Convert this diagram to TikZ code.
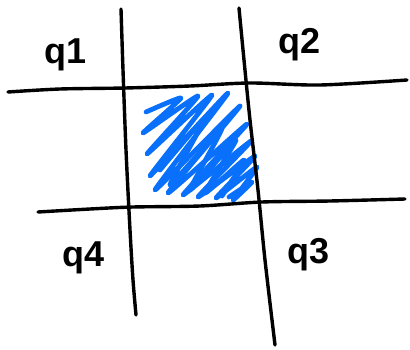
\documentclass[tikz,border=0pt]{standalone}
\usepackage{fontspec}
\setmainfont{Liberation Sans}
\definecolor{scribble}{RGB}{8,112,250}
\tikzset{
  gridline/.style={line width=3.4pt, line cap=round, line join=round, black},
  scribblestroke/.style={line width=4.8pt, line cap=round, line join=round, scribble},
  lbl/.style={font=\fontsize{36}{36}\selectfont\bfseries, inner sep=0pt}
}
\begin{document}
\begin{tikzpicture}[x=1pt,y=-1pt]
\useasboundingbox (0,0) rectangle (410,350);
% blue scribble (drawn first)
\draw[scribblestroke] plot[smooth, tension=0.3] coordinates {
 (146,112) (181,98) (143,133) (198,96) (147,154) (212,95) (150,176)
 (228,93) (155,190) (240,106) (168,193) (247,124) (183,195) (251,141)
 (198,197) (255,156) (216,198) (257,167) (233,200) (252,182) (229,197)};
\draw[scribblestroke] plot[smooth, tension=0.3] coordinates {
 (160,170) (205,118) (170,185) (222,128) (190,190) (236,140) (205,193)
 (244,160) (222,196)};
% grid lines
\draw[gridline] plot[smooth] coordinates {(121,9) (123,70) (126,150) (130,230) (133,280) (136,315)};
\draw[gridline] plot[smooth] coordinates {(239,8) (244,60) (250,120) (258,190) (265,260) (275,345)};
\draw[gridline] plot[smooth] coordinates {(8,92) (60,89) (125,88) (190,86) (250,83) (320,85) (407,80)};
\draw[gridline] plot[smooth] coordinates {(38,212) (90,209) (133,207) (200,206) (262,202) (330,201) (405,199)};
% labels
\node[lbl] (q1) at (66,55) {q1};
\node[lbl] (q2) at (300,45) {q2};
\node[lbl] (q4) at (84,258) {q4};
\node[lbl] (q3) at (309,255) {q3};
\end{tikzpicture}
\end{document}
